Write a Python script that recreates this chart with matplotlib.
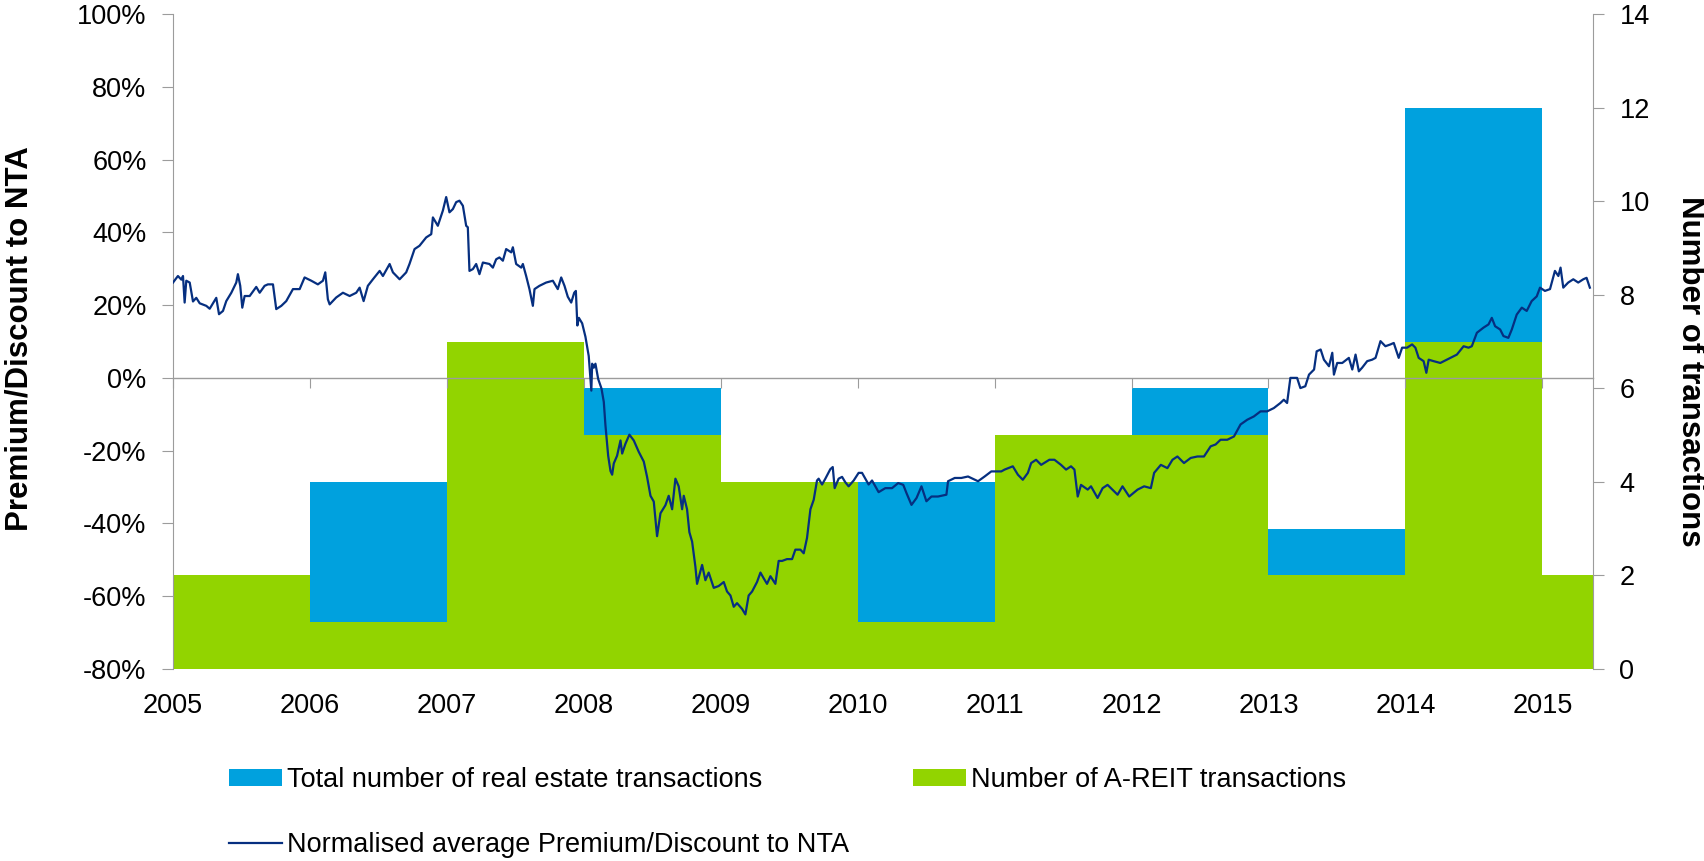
import matplotlib
matplotlib.use("Agg")
import matplotlib.pyplot as plt
from matplotlib.patches import Patch
from matplotlib.lines import Line2D
from matplotlib.ticker import FuncFormatter

plt.rcParams['font.family'] = ['Liberation Sans', 'DejaVu Sans']
plt.rcParams['axes.unicode_minus'] = False

# ---------------- data ----------------
years = [2005, 2006, 2007, 2008, 2009, 2010, 2011, 2012, 2013, 2014, 2015]
total_transactions = [2, 4, 7, 6, 4, 4, 5, 6, 3, 12, 2]
areit_transactions = [2, 1, 7, 5, 4, 1, 5, 5, 2, 7, 2]

line_years = [
    2005.000, 2005.036, 2005.061, 2005.073, 2005.085, 2005.097, 2005.122, 2005.146, 2005.170, 2005.195,
    2005.243, 2005.268, 2005.316, 2005.336, 2005.365, 2005.389, 2005.426, 2005.462, 2005.474, 2005.491,
    2005.506, 2005.523, 2005.560, 2005.608, 2005.633, 2005.669, 2005.693, 2005.730, 2005.754, 2005.791,
    2005.827, 2005.876, 2005.925, 2005.961, 2006.010, 2006.058, 2006.095, 2006.112, 2006.131, 2006.144,
    2006.192, 2006.241, 2006.290, 2006.338, 2006.363, 2006.392, 2006.423, 2006.460, 2006.509, 2006.533,
    2006.582, 2006.606, 2006.655, 2006.703, 2006.727, 2006.764, 2006.800, 2006.849, 2006.886, 2006.898,
    2006.934, 2006.971, 2006.995, 2007.019, 2007.044, 2007.068, 2007.092, 2007.117, 2007.141, 2007.153,
    2007.165, 2007.190, 2007.214, 2007.238, 2007.263, 2007.311, 2007.336, 2007.360, 2007.384, 2007.409,
    2007.433, 2007.470, 2007.482, 2007.506, 2007.543, 2007.555, 2007.579, 2007.603, 2007.628, 2007.640,
    2007.676, 2007.725, 2007.774, 2007.810, 2007.835, 2007.859, 2007.883, 2007.908, 2007.930, 2007.942,
    2007.953, 2007.964, 2007.988, 2008.012, 2008.036, 2008.055, 2008.061, 2008.073, 2008.085, 2008.105,
    2008.129, 2008.146, 2008.158, 2008.178, 2008.195, 2008.207, 2008.219, 2008.243, 2008.268, 2008.280,
    2008.304, 2008.333, 2008.365, 2008.401, 2008.438, 2008.462, 2008.487, 2008.511, 2008.535, 2008.560,
    2008.596, 2008.620, 2008.645, 2008.669, 2008.693, 2008.718, 2008.730, 2008.754, 2008.771, 2008.791,
    2008.815, 2008.827, 2008.864, 2008.888, 2008.912, 2008.949, 2008.985, 2009.022, 2009.046, 2009.071,
    2009.095, 2009.119, 2009.156, 2009.180, 2009.204, 2009.229, 2009.265, 2009.290, 2009.314, 2009.338,
    2009.363, 2009.399, 2009.423, 2009.448, 2009.484, 2009.521, 2009.545, 2009.582, 2009.606, 2009.630,
    2009.655, 2009.679, 2009.703, 2009.715, 2009.740, 2009.764, 2009.800, 2009.818, 2009.832, 2009.861,
    2009.886, 2009.910, 2009.934, 2009.971, 2010.007, 2010.032, 2010.056, 2010.080, 2010.105, 2010.153,
    2010.202, 2010.251, 2010.296, 2010.333, 2010.357, 2010.393, 2010.430, 2010.466, 2010.502, 2010.539,
    2010.587, 2010.648, 2010.660, 2010.709, 2010.757, 2010.806, 2010.879, 2010.927, 2010.976, 2011.012,
    2011.049, 2011.073, 2011.133, 2011.170, 2011.206, 2011.243, 2011.267, 2011.303, 2011.340, 2011.400,
    2011.437, 2011.485, 2011.522, 2011.558, 2011.583, 2011.607, 2011.631, 2011.680, 2011.704, 2011.752,
    2011.789, 2011.825, 2011.874, 2011.898, 2011.934, 2011.983, 2012.044, 2012.092, 2012.141, 2012.165,
    2012.214, 2012.262, 2012.299, 2012.335, 2012.383, 2012.432, 2012.481, 2012.529, 2012.578, 2012.614,
    2012.650, 2012.699, 2012.748, 2012.796, 2012.845, 2012.893, 2012.942, 2012.990, 2013.039, 2013.087,
    2013.112, 2013.136, 2013.160, 2013.209, 2013.233, 2013.269, 2013.296, 2013.333, 2013.352, 2013.381,
    2013.405, 2013.442, 2013.466, 2013.478, 2013.502, 2013.539, 2013.587, 2013.612, 2013.636, 2013.660,
    2013.684, 2013.721, 2013.757, 2013.782, 2013.818, 2013.854, 2013.891, 2013.915, 2013.951, 2013.976,
    2014.012, 2014.049, 2014.073, 2014.097, 2014.133, 2014.153, 2014.170, 2014.206, 2014.255, 2014.328,
    2014.376, 2014.425, 2014.461, 2014.485, 2014.522, 2014.570, 2014.607, 2014.631, 2014.655, 2014.692,
    2014.716, 2014.752, 2014.777, 2014.813, 2014.850, 2014.886, 2014.922, 2014.959, 2014.983, 2015.019,
    2015.056, 2015.092, 2015.117, 2015.133, 2015.153, 2015.189, 2015.226, 2015.262, 2015.299, 2015.323,
    2015.347,
]
line_values = [
    26.2, 28.0, 27.0, 28.0, 20.7, 26.7, 26.2, 21.0, 22.0, 20.5,
    19.8, 19.0, 22.0, 17.5, 18.4, 21.1, 23.4, 26.2, 28.5, 25.3,
    19.3, 22.5, 22.5, 25.0, 23.4, 25.3, 25.7, 25.7, 18.9, 19.8,
    21.1, 24.4, 24.4, 27.6, 26.7, 25.7, 26.7, 29.0, 21.6, 20.2,
    22.1, 23.4, 22.5, 23.4, 24.8, 21.1, 25.3, 27.1, 29.4, 28.0,
    31.3, 29.0, 27.1, 29.0, 31.3, 35.4, 36.3, 38.6, 39.5, 44.1,
    41.8, 46.0, 49.7, 45.5, 46.4, 48.3, 48.7, 47.3, 41.8, 41.4,
    29.4, 29.9, 31.3, 28.5, 31.7, 31.3, 30.3, 32.6, 33.1, 32.2,
    35.4, 34.5, 35.9, 31.3, 30.3, 31.3, 28.0, 24.4, 19.8, 24.4,
    25.3, 26.2, 26.7, 24.4, 27.6, 25.3, 22.3, 20.7, 23.4, 23.9,
    14.4, 16.5, 15.0, 11.3, 6.0, -3.5, 3.9, 2.8, 3.9, -0.3,
    -2.9, -6.6, -13.0, -21.4, -25.6, -26.6, -23.5, -21.4, -17.2, -20.8,
    -18.1, -15.6, -17.2, -20.3, -23.0, -27.2, -32.4, -34.0, -43.5, -37.2,
    -35.0, -32.4, -36.1, -27.7, -29.8, -36.1, -32.4, -36.1, -42.4, -45.0,
    -51.9, -56.6, -51.4, -55.6, -53.5, -57.7, -57.2, -56.1, -58.7, -59.8,
    -62.9, -61.9, -63.5, -65.0, -59.8, -58.7, -56.1, -53.5, -55.1, -56.6,
    -54.5, -56.6, -50.3, -50.3, -49.8, -49.8, -47.2, -47.2, -48.2, -44.0,
    -36.1, -33.5, -28.2, -27.7, -29.3, -27.7, -25.1, -24.5, -30.3, -27.7,
    -27.2, -28.7, -29.8, -28.2, -26.1, -26.1, -27.7, -29.3, -28.2, -31.4,
    -30.3, -30.3, -28.9, -29.4, -31.7, -34.9, -33.0, -29.8, -33.9, -32.6,
    -32.6, -32.1, -28.4, -27.5, -27.5, -27.1, -28.4, -27.1, -25.7, -25.7,
    -25.7, -25.2, -24.3, -26.6, -28.0, -26.1, -23.4, -22.5, -23.9, -22.5,
    -22.5, -23.9, -25.2, -24.3, -25.2, -32.6, -29.4, -30.7, -29.8, -33.0,
    -30.3, -29.4, -31.2, -32.1, -29.8, -32.6, -30.7, -29.8, -30.3, -26.1,
    -23.9, -24.8, -22.5, -21.6, -23.4, -22.0, -21.6, -21.6, -18.8, -18.3,
    -17.0, -17.0, -16.1, -12.8, -11.5, -10.6, -9.2, -9.2, -8.3, -6.9,
    -6.0, -6.9, 0.0, 0.0, -2.8, -2.3, 0.9, 2.3, 7.3, 7.8,
    5.0, 3.2, 6.9, 0.9, 4.1, 4.1, 5.5, 2.3, 6.4, 1.8,
    2.8, 4.6, 5.0, 5.5, 10.1, 8.7, 9.2, 9.6, 5.5, 8.3,
    8.3, 9.2, 8.3, 5.5, 4.6, 1.4, 5.0, 4.6, 4.1, 5.5,
    6.4, 8.7, 8.3, 8.7, 12.4, 13.8, 14.7, 16.5, 14.2, 13.3,
    11.5, 11.0, 13.3, 17.4, 19.3, 18.4, 21.1, 22.4, 24.8, 23.9,
    24.4, 29.4, 28.0, 30.3, 24.8, 26.2, 27.1, 26.2, 27.1, 27.5,
    24.8,
]

pct_ticks = [-80, -60, -40, -20, 0, 20, 40, 60, 80, 100]
count_ticks = [0, 2, 4, 6, 8, 10, 12, 14]

# ---------------- style ----------------
BLUE = '#00A1DE'
GREEN = '#92D400'
NAVY = '#062F80'
GRAY = '#9C9C9C'
FS = 19.5

W, H = 1704, 861
fig = plt.figure(figsize=(W / 100, H / 100), dpi=100)
left, right, top, bottom = 173 / W, 1593 / W, 1 - 14 / H, 1 - 669 / H
ax = fig.add_axes([left, bottom, right - left, top - bottom])
ax2 = ax.twinx()
ax.set_zorder(2)
ax2.set_zorder(1)
ax.patch.set_visible(False)

# bars on the right axis
ax2.bar(years, total_transactions, width=1.0, align='edge', color=BLUE, linewidth=0)
ax2.bar(years, areit_transactions, width=1.0, align='edge', color=GREEN, linewidth=0)
ax2.set_ylim(0, 14)
ax2.set_yticks(count_ticks)

# line on the left axis
ax.plot(line_years, line_values, color=NAVY, linewidth=1.6, zorder=3)
ax.set_ylim(-80, 100)
ax.set_yticks(pct_ticks)
ax.yaxis.set_major_formatter(FuncFormatter(lambda v, p: f"{v:.0f}%"))
ax.set_xlim(2005, 2015.37)
ax.set_xticks(years)
ax.set_xticklabels([str(y) for y in years])

# spines
for a in (ax, ax2):
    a.spines['top'].set_visible(False)
    a.spines['bottom'].set_visible(False)
ax.spines['right'].set_visible(False)
ax2.spines['left'].set_visible(False)
ax.spines['left'].set_color(GRAY)
ax2.spines['right'].set_color(GRAY)

ax.tick_params(axis='x', length=0, pad=17, labelsize=FS)
ax.tick_params(axis='y', direction='out', length=8, color=GRAY, pad=11, labelsize=FS)
ax2.tick_params(axis='y', direction='out', length=8, color=GRAY, pad=11, labelsize=FS)

# horizontal axis line at 0%
sec = ax.secondary_xaxis(80 / 180)
sec.set_xticks(years)
sec.tick_params(direction='out', length=7, color=GRAY, labelbottom=False)
sec.spines['bottom'].set_color(GRAY)
sec.spines['bottom'].set_linewidth(1.0)

# axis titles
fig.text(20 / W, 1 - 339 / H, 'Premium/Discount to NTA', rotation=90, ha='center', va='center',
         fontsize=22.5, fontweight='bold')
fig.text(1690 / W, 1 - 371 / H, 'Number of transactions', rotation=270, ha='center', va='center',
         fontsize=22.5, fontweight='bold')

# legend
handles = [
    Patch(facecolor=BLUE, edgecolor='none', label='Total number of real estate transactions'),
    Line2D([], [], color=NAVY, linewidth=1.6, label='Normalised average Premium/Discount to NTA'),
    Patch(facecolor=GREEN, edgecolor='none', label='Number of A-REIT transactions'),
]
fig.legend(handles=handles, loc='upper left', bbox_to_anchor=(229 / W, 1 - 767 / H), ncol=2,
           frameon=False, fontsize=FS, handlelength=1.95, handleheight=0.55, handletextpad=0.2,
           labelspacing=1.45, columnspacing=2.35, borderpad=0, borderaxespad=0)

fig.savefig('out.png', dpi=100)
